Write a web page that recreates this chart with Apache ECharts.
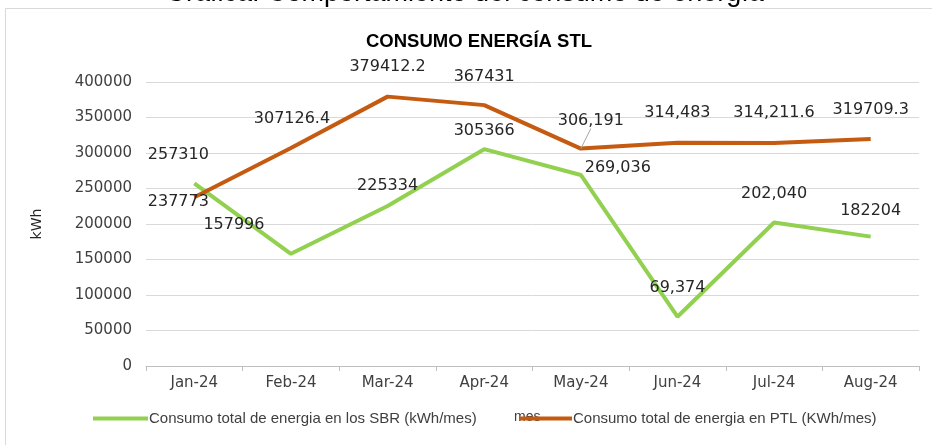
<!DOCTYPE html>
<html>
<head>
<meta charset="utf-8">
<script src="https://cdn.jsdelivr.net/npm/echarts@6/dist/echarts.min.js"></script>
<style>
html,body{margin:0;padding:0;background:#fff;}
#c{width:932px;height:445px;}
</style>
</head>
<body>
<div id="c"></div>
<script>
const categories = ['Jan-24','Feb-24','Mar-24','Apr-24','May-24','Jun-24','Jul-24','Aug-24'];
const sbrValues = [257310, 157996, 225334, 305366, 269036, 69374, 202040, 182204];
const ptlValues = [237773, 307126.4, 379412.2, 367431, 306191, 314483, 314211.6, 319709.3];
const sbrLabels = ['257310','157996','225334','305366','269,036','69,374','202,040','182204'];
const ptlLabels = ['237773','307126.4','379412.2','367431','306,191','314,483','314,211.6','319709.3'];
const yTicks = [0, 50000, 100000, 150000, 200000, 250000, 300000, 350000, 400000];
const sbrName = 'Consumo total de energia en los SBR (kWh/mes)';
const ptlName = 'Consumo total de energia en PTL (KWh/mes)';

// label offsets (style, not data)
const sbrOffsets = [[-16,-28],[-57,-29],[0,-20],[0,-18],[37,-7],[0,-29],[0,-29],[0,-26]];
const ptlOffsets = [[-16,5],[1,-29],[0,-30],[0,-28],[10,-28],[0,-30],[0,-30],[0,-29]];

const labelFont = {fontFamily:'DejaVu Sans', fontSize:16, color:'#262626'};

function mkData(vals, labels, leaderIdx){
  return vals.map((v,i)=>{
    const d = {value:v, label:{formatter:labels[i]}};
    if (i === leaderIdx) d.labelLine = {show:true, lineStyle:{color:'#a6a6a6', width:1}};
    return d;
  });
}
function mkLayout(offs){
  return p => ({dx:offs[p.dataIndex][0], dy:offs[p.dataIndex][1], hideOverlap:false});
}

const chart = echarts.init(document.getElementById('c'));
chart.setOption({
  animation:false,
  backgroundColor:'#fff',
  title:{text:'CONSUMO ENERGÍA STL', left:474, top:27, textAlign:'center',
    textStyle:{fontFamily:'Liberation Sans', fontSize:18.5, fontWeight:'bold', color:'#000'}},
  graphic:[
    {type:'rect', shape:{x:5.5,y:8.5,width:940,height:450}, style:{fill:'none', stroke:'#d9d9d9', lineWidth:1}, z:-1},
    {type:'text', left:165, top:-20, style:{text:'Gráfica: Comportamiento del consumo de energía', font:'27px Liberation Sans', fill:'#000'}},
    {type:'text', left:514, top:410, z:1, style:{text:'mes', font:'14px Liberation Sans', fill:'#404040'}}
  ],
  legend:[
    {data:[sbrName], left:93, top:411, padding:0, itemWidth:55, itemHeight:4, itemGap:0, icon:'rect',
      textStyle:{fontFamily:'Liberation Sans', fontSize:15, color:'#404040', padding:[0,0,0,-4]}},
    {data:[ptlName], left:520, top:411, padding:0, itemWidth:52, itemHeight:4, icon:'rect', z:5,
      textStyle:{fontFamily:'Liberation Sans', fontSize:15, color:'#404040', padding:[0,0,0,-4]}}
  ],
  grid:{left:146, right:13, top:82, bottom:79},
  xAxis:{type:'category', data:categories, boundaryGap:true,
    axisLine:{lineStyle:{color:'#bfbfbf'}},
    axisTick:{show:true, alignWithLabel:false, lineStyle:{color:'#bfbfbf'}, length:5},
    axisLabel:{fontFamily:'DejaVu Sans', fontSize:15, color:'#404040', margin:10}},
  yAxis:{type:'value', min:yTicks[0], max:yTicks[yTicks.length-1], interval:yTicks[1]-yTicks[0],
    name:'kWh', nameLocation:'middle', nameGap:102, nameRotate:90,
    nameTextStyle:{fontFamily:'DejaVu Sans', fontSize:14, color:'#262626'},
    axisLine:{show:false}, axisTick:{show:false},
    splitLine:{lineStyle:{color:'#d9d9d9', width:1}},
    axisLabel:{fontFamily:'DejaVu Sans', fontSize:15, color:'#404040', margin:14, formatter:v=>String(v)}},
  series:[
    {name:sbrName, type:'line', data:mkData(sbrValues, sbrLabels, -1),
      symbol:'circle', symbolSize:0.01, showSymbol:true, lineStyle:{color:'#92d050', width:4}, itemStyle:{color:'#92d050'},
      label:{show:true, position:'inside', ...labelFont}, labelLayout:mkLayout(sbrOffsets), z:2},
    {name:ptlName, type:'line', data:mkData(ptlValues, ptlLabels, 4),
      symbol:'circle', symbolSize:0.01, showSymbol:true, lineStyle:{color:'#c55a11', width:4}, itemStyle:{color:'#c55a11'},
      label:{show:true, position:'inside', ...labelFont}, labelLayout:mkLayout(ptlOffsets), z:3}
  ]
});
</script>
</body>
</html>
